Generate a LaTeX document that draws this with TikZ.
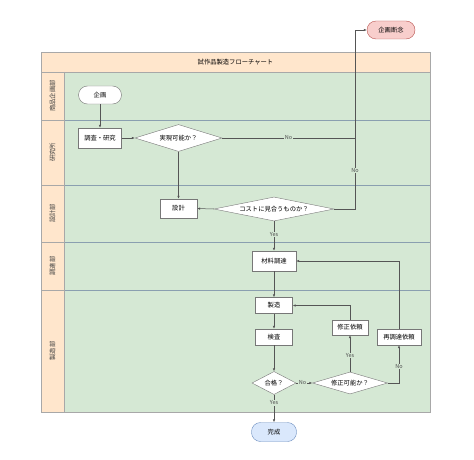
\documentclass[tikz,border=0pt]{standalone}
\usepackage{fontspec}
\setmainfont{Noto Sans CJK JP}
\usetikzlibrary{shapes.geometric,arrows.meta}
\definecolor{lanegreen}{HTML}{D5E8D4}
\definecolor{headorange}{HTML}{FFE6CC}
\definecolor{frame}{HTML}{A8A8A8}
\definecolor{sep}{HTML}{8A9FB0}
\definecolor{ln}{HTML}{555555}
\definecolor{pinkf}{HTML}{F8CECC}
\definecolor{pinkd}{HTML}{B85450}
\definecolor{bluef}{HTML}{DAE8FC}
\definecolor{blued}{HTML}{6C8EBF}
\tikzset{
  txt/.style={font=\fontsize{6.3}{7}\selectfont},
  box/.style={txt, rectangle, draw=ln!80, fill=white, inner sep=0pt},
  term/.style={txt, rectangle, rounded corners=9pt, draw=ln!80, fill=white, inner sep=0pt},
  dia/.style={txt, diamond, draw=ln!80, fill=white, inner sep=0pt},
  conn/.style={draw=ln, line width=0.5pt},
  arr/.style={conn, -{Latex[length=3pt,width=2.4pt]}},
  lbl/.style={font=\fontsize{5.5}{6}\selectfont, fill=lanegreen, inner sep=0.6pt, text=ln!90!black},
  lanelbl/.style={txt, rotate=90, text=black!75},
}
\begin{document}
\begin{tikzpicture}[x=1pt,y=-1pt]
\useasboundingbox (0,0) rectangle (474,460);
% frame
\fill[headorange] (41,52) rectangle (430,72);
\fill[headorange] (41,72) rectangle (64,412);
\fill[lanegreen] (64,72) rectangle (430,412);
\foreach \yy in {120,185,242,290}{
  \draw[frame, line width=0.5pt] (41,\yy) -- (64,\yy);
  \draw[sep, line width=0.5pt] (64,\yy) -- (430,\yy);
}
\draw[frame, line width=0.6pt] (41,52) rectangle (430,412);
\draw[frame, line width=0.5pt] (41,72) -- (430,72);
\draw[frame, line width=0.5pt] (64,72) -- (64,412);
\node[txt] (title) at (235.5,62) {試作品製造フローチャート};
\node[lanelbl] (l1) at (52.5,96) {商品企画部};
\node[lanelbl] (l2) at (52.5,152.5) {研究所};
\node[lanelbl] (l3) at (52.5,213.5) {設計部};
\node[lanelbl] (l4) at (52.5,266) {調達部};
\node[lanelbl] (l5) at (52.5,351) {製造部};
% nodes
\node[term, minimum width=43pt, minimum height=18pt] (kikaku) at (100,95) {企画};
\node[term, fill=pinkf, draw=pinkd, minimum width=48pt, minimum height=18pt] (dannen) at (391,30) {企画断念};
\node[box, minimum width=43pt, minimum height=20pt] (chousa) at (100,138) {調査・研究};
\node[dia, aspect=3.2, minimum width=87pt, minimum height=27pt] (jitsu) at (178.5,138) {実現可能か？};
\node[box, minimum width=37pt, minimum height=19pt] (sekkei) at (178.5,208.5) {設計};
\node[dia, aspect=5, minimum width=120pt, minimum height=24pt] (cost) at (274,209) {コストに見合うものか？};
\node[box, minimum width=44pt, minimum height=20pt] (zairyo) at (274,261) {材料調達};
\node[box, minimum width=37pt, minimum height=16pt] (seizo) at (274,305.5) {製造};
\node[box, minimum width=37pt, minimum height=16pt] (kensa) at (274,337) {検査};
\node[box, minimum width=36pt, minimum height=15pt] (shusei) at (350,327.5) {修正依頼};
\node[box, minimum width=44pt, minimum height=16pt] (saichou) at (399,337) {再調達依頼};
\node[dia, aspect=1.9, minimum width=44pt, minimum height=23pt] (gokaku) at (274,383) {合格？};
\node[dia, aspect=3.4, minimum width=75pt, minimum height=22pt] (shukano) at (350,383) {修正可能か？};
\node[term, fill=bluef, draw=blued, minimum width=45pt, minimum height=19pt] (kansei) at (274,432) {完成};
\coordinate (j1) at (355,138);
\coordinate (j2) at (355,30);
\coordinate (j3) at (355,209);
% connectors
\draw[arr] (kikaku) -- (chousa);
\draw[arr] (chousa) -- (jitsu);
\draw[arr] (jitsu) -- (sekkei);
\draw[arr] (jitsu.east) -- node[lbl, pos=0.5] {No} (j1) -- (j2) -- (dannen.west);
\draw[conn] (cost.east) -- (j3) -- node[lbl, pos=0.54] {No} (j1);
\draw[arr] (cost.west) -- (sekkei.east);
\draw[arr] (cost.south) -- node[lbl, pos=0.45] {Yes} (zairyo.north);
\draw[arr] (zairyo) -- (seizo);
\draw[arr] (seizo) -- (kensa);
\draw[arr] (kensa) -- (gokaku);
\draw[arr] (gokaku.east) -- node[lbl, pos=0.4] {No} (shukano.west);
\draw[arr] (shukano.north) -- node[lbl, pos=0.45] {Yes} (shusei.south);
\draw[arr] (shusei.north) |- (seizo.east);
\draw[arr] (shukano.east) -| node[lbl, pos=0.72] {No} (saichou.south);
\draw[arr] (saichou.north) |- (zairyo.east);
\draw[arr] (gokaku.south) -- node[lbl, pos=0.3] {Yes} (kansei.north);
\end{tikzpicture}
\end{document}
